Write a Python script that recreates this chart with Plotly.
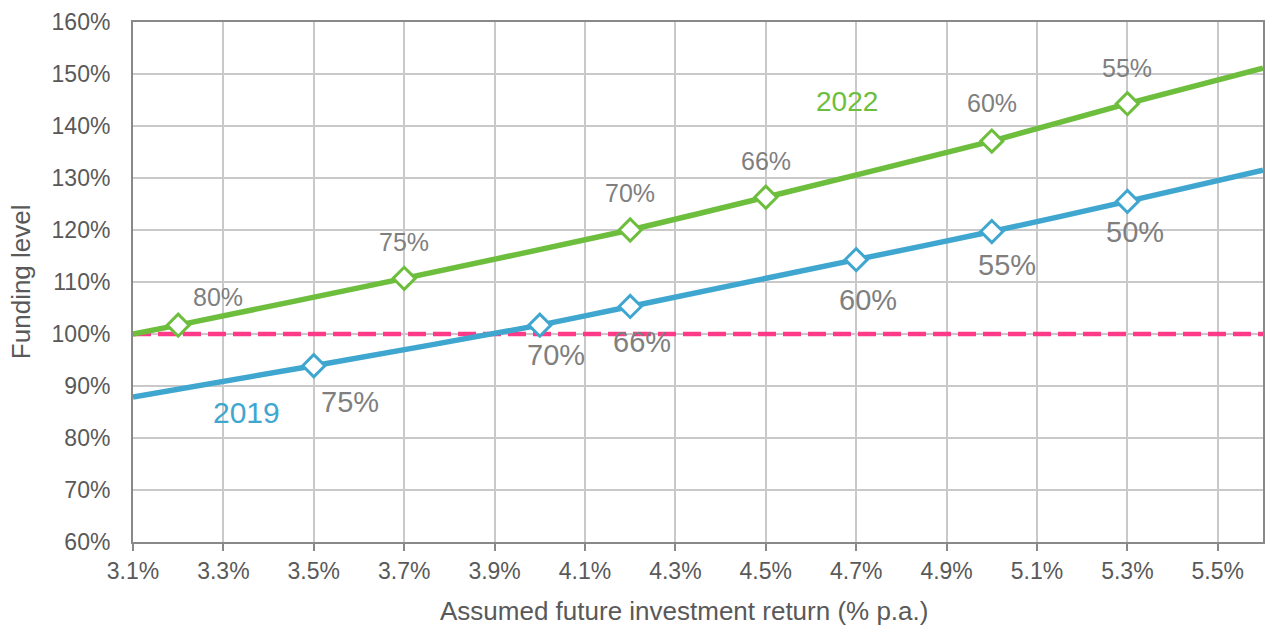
import plotly.graph_objects as go

# ---- data ----
returns_2022 = [3.1, 3.2, 3.7, 4.2, 4.5, 5.0, 5.3, 5.6]
funding_2022 = [100.0, 101.7, 110.7, 120.0, 126.3, 137.1, 144.3, 151.1]
marker_idx_2022 = [1, 2, 3, 4, 5, 6]
labels_2022 = ["80%", "75%", "70%", "66%", "60%", "55%"]

returns_2019 = [3.1, 3.5, 4.0, 4.2, 4.7, 5.0, 5.3, 5.6]
funding_2019 = [87.9, 93.9, 101.7, 105.3, 114.3, 119.7, 125.5, 131.5]
marker_idx_2019 = [1, 2, 3, 4, 5, 6]
labels_2019 = ["75%", "70%", "66%", "60%", "55%", "50%"]

target_level = 100
x_range = [3.1, 5.6]
y_range = [60, 160]
x_title = "Assumed future investment return (% p.a.)"
y_title = "Funding level"

# ---- style ----
GREEN = "#6DBE3D"
BLUE = "#3FA7CF"
PINK = "#FF3A88"
LABEL_GREY = "#7F7F7F"
TEXT = "#595959"
GRID = "#C9C9C9"
FRAME = "#898989"
FONT = "Liberation Sans, Arial, sans-serif"

# label nudges (pixels)
shift_2022 = [(40, 28), (0, 36), (0, 37), (0, 36), (0, 38), (0, 36)]
shift_2019 = [(36, -36), (16, -30), (12, -36), (12, -40), (15, -33), (8, -31)]

fig = go.Figure()

# target line
fig.add_trace(go.Scatter(
    x=x_range, y=[target_level, target_level], mode="lines",
    line=dict(color=PINK, width=4.5, dash="18px,7px"),
    hoverinfo="skip", showlegend=False))

for xs, ys, idx, col in [(returns_2019, funding_2019, marker_idx_2019, BLUE),
                         (returns_2022, funding_2022, marker_idx_2022, GREEN)]:
    fig.add_trace(go.Scatter(
        x=xs, y=ys, mode="lines",
        line=dict(color=col, width=5.5, shape="spline", smoothing=0.5),
        showlegend=False))
    fig.add_trace(go.Scatter(
        x=[xs[i] for i in idx], y=[ys[i] for i in idx], mode="markers",
        marker=dict(symbol="diamond", size=17, color="white",
                    line=dict(color=col, width=3)),
        showlegend=False))

annotations = []
for i, (idx, lab) in enumerate(zip(marker_idx_2022, labels_2022)):
    dx, dy = shift_2022[i]
    annotations.append(dict(x=returns_2022[idx], y=funding_2022[idx], text=lab,
                            showarrow=False, xshift=dx, yshift=dy,
                            font=dict(size=25, color=LABEL_GREY, family=FONT)))
for i, (idx, lab) in enumerate(zip(marker_idx_2019, labels_2019)):
    dx, dy = shift_2019[i]
    annotations.append(dict(x=returns_2019[idx], y=funding_2019[idx], text=lab,
                            showarrow=False, xshift=dx, yshift=dy,
                            font=dict(size=29, color=LABEL_GREY, family=FONT)))

annotations.append(dict(x=4.68, y=144.7, text="2022", showarrow=False,
                        font=dict(size=28, color=GREEN, family=FONT)))
annotations.append(dict(x=3.35, y=85.0, text="2019", showarrow=False,
                        font=dict(size=30, color=BLUE, family=FONT)))

annotations.append(dict(xref="paper", yref="paper", x=0.4876, y=-0.137,
                        xanchor="center", yanchor="middle", yshift=2,
                        text=x_title, showarrow=False,
                        font=dict(size=26, color=TEXT, family=FONT)))
annotations.append(dict(xref="paper", yref="paper", x=-0.099, y=0.5,
                        xanchor="center", yanchor="middle",
                        text=y_title, showarrow=False, textangle=-90,
                        font=dict(size=26, color=TEXT, family=FONT)))

fig.update_layout(
    width=1269, height=625,
    margin=dict(l=133, r=4, t=22, b=83),
    paper_bgcolor="white", plot_bgcolor="white",
    font=dict(family=FONT, color=TEXT, size=23),
    annotations=annotations,
    showlegend=False,
)
fig.update_xaxes(
    range=x_range, tick0=3.1, dtick=0.2, tickformat=".1f", ticksuffix="%",
    showgrid=True, gridcolor=GRID, gridwidth=1.5,
    showline=True, linecolor=FRAME, linewidth=2, mirror=True,
    ticks="outside", ticklen=7, tickcolor=FRAME, tickwidth=1.5,
    tickfont=dict(size=23, color=TEXT), zeroline=False,
)
fig.update_yaxes(
    range=y_range, dtick=10, ticksuffix="%",
    showgrid=True, gridcolor=GRID, gridwidth=1.5,
    showline=True, linecolor=FRAME, linewidth=2, mirror=True,
    ticks="", ticklabelstandoff=16,
    tickfont=dict(size=23, color=TEXT), zeroline=False,
)

fig.write_html("out.html", config={"displayModeBar": False},
               post_script="document.body.style.margin='0';document.body.style.overflow='hidden';")
